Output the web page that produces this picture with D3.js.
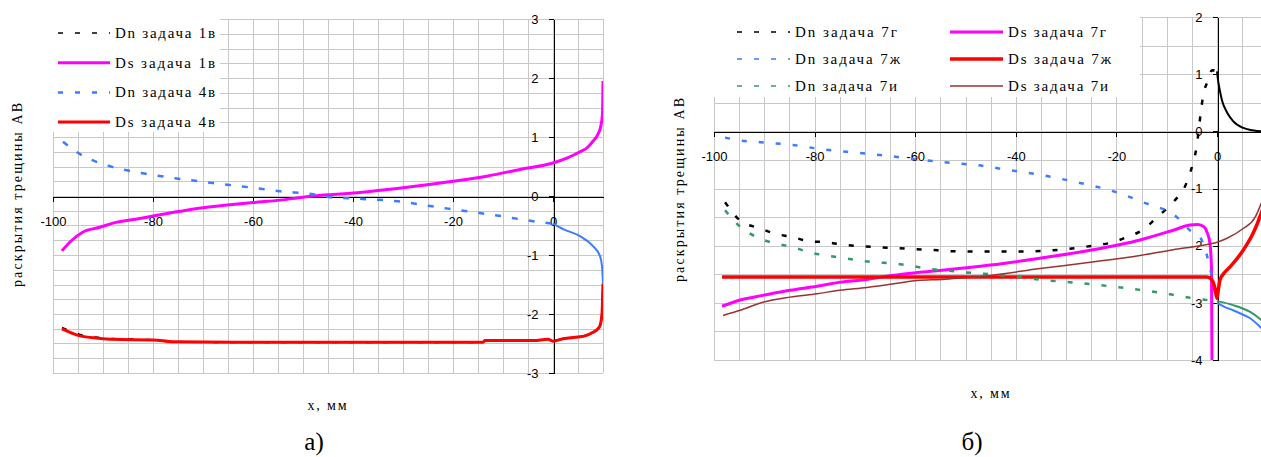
<!DOCTYPE html>
<html><head><meta charset="utf-8">
<script src="https://cdn.jsdelivr.net/npm/d3@7"></script>
<style>body{margin:0;background:#fff}svg{display:block}</style>
</head><body>
<svg id="c" width="1261" height="457"></svg>
<script>
// ---------------- DATA ----------------
// chart а)
const xTicksA = [-100, -80, -60, -40, -20, 0];
const yTicksA = [-3, -2, -1, 0, 1, 2, 3];
const dnA1 = [[-98.2,-2.23],[-96,-2.31],[-94.6,-2.35],[-91,-2.40],[-88,-2.42],[-84,-2.43],[-80,-2.44],[-76,-2.47],[-60,-2.48],[-40,-2.48],[-14,-2.48],[-13.6,-2.45],[-4,-2.45],[-1,-2.43],[0,-2.46],[2,-2.42],[5,-2.39],[6.4,-2.37],[8,-2.31],[9,-2.25],[9.4,-2.2],[9.8,-2.0],[10,-1.49]];
const dsA1 = [[-98.2,-0.93],[-96.6,-0.78],[-94,-0.61],[-90.6,-0.53],[-88,-0.46],[-83.2,-0.39],[-80,-0.34],[-74.6,-0.26],[-70,-0.2],[-64.6,-0.15],[-60,-0.11],[-54.6,-0.07],[-50,-0.02],[-45,0.02],[-40,0.05],[-30,0.14],[-20,0.25],[-13,0.34],[-6.6,0.45],[0,0.56],[3,0.65],[5.4,0.75],[7,0.83],[8,0.93],[9,1.05],[9.6,1.2],[9.9,1.4],[10,1.95]];
const dnA4 = [[-98,0.92],[-94.6,0.71],[-91,0.57],[-88,0.49],[-81,0.37],[-74.6,0.29],[-68,0.22],[-61,0.15],[-54.6,0.08],[-48,0.03],[-44.6,-0.02],[-38,-0.05],[-31,-0.09],[-24.6,-0.17],[-18,-0.25],[-11.2,-0.33],[-4.6,-0.42],[0,-0.47],[2,-0.56],[5.4,-0.68],[8,-0.85],[9.4,-1.02],[9.8,-1.19],[10,-1.49]];
const dsA4 = [[-98.2,-2.25],[-96,-2.33],[-94.6,-2.37],[-91,-2.41],[-88,-2.43],[-80,-2.44],[-76,-2.47],[-60,-2.48],[-40,-2.48],[-14,-2.48],[-13.6,-2.45],[-4,-2.45],[-1,-2.43],[0,-2.46],[2,-2.42],[5,-2.39],[6.4,-2.37],[8,-2.31],[9,-2.25],[9.4,-2.2],[9.8,-2.0],[10,-1.49]];
const namesA = ["Dn задача 1в", "Ds задача 1в", "Dn задача 4в", "Ds задача 4в"];

// chart б)
const xTicksB = [-100, -80, -60, -40, -20, 0];
const yTicksB = [-4, -3, -2, -1, 0, 1, 2];
const dnB7g = [[-97.8,-1.24],[-94.8,-1.56],[-90.8,-1.7],[-87.9,-1.79],[-84.3,-1.85],[-81.3,-1.92],[-77.9,-1.94],[-74.6,-1.98],[-64.4,-2.04],[-57.7,-2.07],[-51,-2.1],[-37.8,-2.1],[-31.2,-2.07],[-24.7,-2.0],[-20.7,-1.94],[-17.9,-1.85],[-14.9,-1.73],[-11.5,-1.47],[-8.5,-1.22],[-6,-0.89],[-4.8,-0.56],[-4,-0.24],[-3.6,0.05],[-3.2,0.35],[-2.8,0.6],[-1.8,0.89],[-1,1.07],[0,1.05],[0.2,0.9],[0.6,0.7],[1,0.54],[2,0.33],[3.2,0.18],[5.2,0.06],[7,0.02],[8.8,0],[10,0]];
const dsB7g = [[-98.4,-3.06],[-94.8,-2.95],[-90.3,-2.87],[-84.9,-2.78],[-79.5,-2.71],[-75,-2.64],[-69.6,-2.59],[-64.6,-2.52],[-59.6,-2.47],[-54.7,-2.43],[-45.1,-2.34],[-35.2,-2.22],[-25.2,-2.08],[-15.3,-1.9],[-8.7,-1.73],[-5.4,-1.64],[-3.8,-1.63],[-2.6,-1.67],[-2,-1.76],[-1.4,-1.96],[-1.1,-2.38],[-1,-4]];
const dnB7zh = [[-97.8,-0.11],[-94.8,-0.16],[-90.8,-0.19],[-84.3,-0.24],[-77.9,-0.32],[-71,-0.38],[-64.4,-0.44],[-57.7,-0.51],[-51.7,-0.56],[-47.8,-0.59],[-41.2,-0.68],[-34.6,-0.77],[-27.9,-0.89],[-21.3,-1.03],[-14.7,-1.24],[-8,-1.5],[-5.4,-1.73],[-3.4,-1.85],[-2,-2.17],[-1,-2.55],[0,-3.0],[1.5,-3.07],[3.2,-3.13],[5,-3.2],[6.6,-3.27],[8.8,-3.44],[10,-3.55]];
const dsB7zh = [[-98.4,-2.55],[-60,-2.55],[-20,-2.55],[-2,-2.55],[-1,-2.6],[-0.4,-2.75],[0,-2.92],[0.3,-2.75],[0.6,-2.6],[1.5,-2.47],[2.6,-2.37],[5.2,-2.08],[7.2,-1.78],[8.8,-1.43],[10,-1.1]];
const dnB7i = [[-97.8,-1.38],[-94.8,-1.67],[-91.5,-1.85],[-87.9,-1.96],[-84.5,-2.02],[-81.3,-2.11],[-77.9,-2.17],[-74.6,-2.21],[-71,-2.26],[-68,-2.29],[-64.4,-2.31],[-61,-2.35],[-57.7,-2.4],[-54.5,-2.43],[-51,-2.46],[-41.2,-2.53],[-34.6,-2.6],[-27.9,-2.65],[-21.3,-2.71],[-14.7,-2.78],[-8,-2.87],[-4.8,-2.92],[0,-2.97],[3.2,-3.04],[6.6,-3.16],[8.8,-3.3],[10,-3.4]];
const dsB7i = [[-98.2,-3.22],[-94.8,-3.13],[-90.3,-2.99],[-84.9,-2.9],[-79.5,-2.84],[-75,-2.78],[-69.6,-2.73],[-64.6,-2.67],[-59.6,-2.61],[-54.7,-2.59],[-51.5,-2.57],[-45.1,-2.52],[-35.2,-2.4],[-25.2,-2.29],[-15.3,-2.17],[-8.7,-2.07],[-3.4,-2.0],[0,-1.94],[2,-1.87],[5.2,-1.7],[7.6,-1.5],[8.8,-1.26],[10,-1.0]];
const namesB = ["Dn задача 7г", "Ds задача 7г", "Dn задача 7ж", "Ds задача 7ж", "Dn задача 7и", "Ds задача 7и"];

const yTitle = "раскрытия трещины АВ";
const xTitle = "x, мм";

// ---------------- DRAW ----------------
const svg = d3.select("#c");
svg.append("rect").attr("width",1261).attr("height",457).attr("fill","#fff");

function chart(o){
  const x = d3.scaleLinear().domain(o.xDom).range(o.xR);
  const y = d3.scaleLinear().domain(o.yDom).range(o.yR);
  const g = svg.append("g");
  const top = o.yR[1], bot = o.yR[0], left = o.xR[0], right = o.xR[1];
  // grid
  const grid = g.append("g").attr("stroke","#c8c8c8").attr("stroke-width",1).attr("shape-rendering","crispEdges");
  grid.selectAll(".v").data(d3.range(o.xDom[0], o.xDom[1]+0.001, o.xStep)).join("line")
    .attr("x1",d=>Math.round(x(d))+0.5).attr("x2",d=>Math.round(x(d))+0.5).attr("y1",top).attr("y2",bot);
  grid.selectAll(".h").data(d3.range(o.yDom[0], o.yDom[1]+0.001, o.yStep)).join("line")
    .attr("y1",d=>Math.round(y(d))+0.5).attr("y2",d=>Math.round(y(d))+0.5).attr("x1",left).attr("x2",right);
  // legend background
  g.append("rect").attr("x",o.legBox[0]).attr("y",o.legBox[1]).attr("width",o.legBox[2]).attr("height",o.legBox[3]).attr("fill","#fff");
  // axes
  const xa = g.append("g").attr("transform",`translate(0,${Math.round(y(0))+0.5})`)
    .call(d3.axisBottom(x).tickValues(o.xTicks).tickSize(5).tickSizeOuter(0).tickPadding(15));
  const ya = g.append("g").attr("transform",`translate(${Math.round(x(0))+0.5},0)`)
    .call(d3.axisLeft(y).tickValues(o.yTicks).tickSize(5).tickSizeOuter(0).tickPadding(10));
  [xa,ya].forEach(a=>{
    a.selectAll("text").attr("font-family","'Liberation Sans', Arial, sans-serif").attr("font-size",13).attr("fill","#000")
      .text(d=>String(d));
    a.selectAll("path,line").attr("stroke","#000").attr("shape-rendering","crispEdges");
  });
  // series
  const clipId = o.id+"clip";
  svg.append("clipPath").attr("id",clipId).append("rect")
    .attr("x",left).attr("y",top-1).attr("width",right-left).attr("height",bot-top+2);
  const line = d3.line().x(d=>x(d[0])).y(d=>y(d[1])).curve(d3.curveMonotoneX);
  const sg = g.append("g").attr("clip-path",`url(#${clipId})`).attr("fill","none");
  o.series.forEach(s=>{
    if(s.dash){
      sg.append("path").attr("d",line(s.data.filter(d=>d[0]<=0))).attr("stroke",s.color).attr("stroke-width",s.w).attr("stroke-dasharray",s.dash);
      sg.append("path").attr("d",line(s.data.filter(d=>d[0]>=0))).attr("stroke",s.color).attr("stroke-width",s.w2);
    } else {
      sg.append("path").attr("d",line(s.data)).attr("stroke",s.color).attr("stroke-width",s.w);
    }
  });
  // legend entries
  o.series.forEach((s,i)=>{
    const p = o.legPos(i);
    g.append("line").attr("x1",p[0]).attr("x2",p[0]+o.legLineLen).attr("y1",p[1]).attr("y2",p[1])
      .attr("stroke",s.color).attr("stroke-width",s.legW||s.w).attr("stroke-dasharray",s.dash?"5,12":null);
    g.append("text").attr("x",p[0]+o.legLineLen+5).attr("y",p[1]+5)
      .attr("font-family","'Liberation Serif', 'Times New Roman', serif").attr("font-size",15)
      .attr("textLength",s.tl).attr("lengthAdjust","spacing").text(s.name);
  });
  // axis titles
  g.append("text").attr("transform",`translate(${o.yTitlePos[0]},${o.yTitlePos[1]}) rotate(-90)`)
    .attr("text-anchor","middle").attr("font-family","'Liberation Serif', serif").attr("font-size",14)
    .attr("textLength",184).attr("lengthAdjust","spacing").text(yTitle);
  g.append("text").attr("x",o.xTitlePos[0]).attr("y",o.xTitlePos[1])
    .attr("text-anchor","middle").attr("font-family","'Liberation Serif', serif").attr("font-size",14)
    .attr("textLength",39).attr("lengthAdjust","spacing").text(xTitle);
  g.append("text").attr("x",o.capPos[0]).attr("y",o.capPos[1])
    .attr("text-anchor","middle").attr("font-family","'Liberation Serif', 'Times New Roman', serif").attr("font-size",25)
    .text(o.caption);
}

chart({
  id:"a", xDom:[-100,10], xR:[53,603], yDom:[-3,3], yR:[373,19], xStep:5, yStep:0.25,
  xTicks:xTicksA, yTicks:yTicksA, legBox:[53,19,167,113],
  series:[
    {name:namesA[0], data:dnA1, color:"#000000", w:2, w2:2, dash:"5,12", legW:1.5, tl:100},
    {name:namesA[1], data:dsA1, color:"#ff00ff", w:3, tl:100},
    {name:namesA[2], data:dnA4, color:"#3d7bff", w:2.5, w2:2, dash:"6,11", legW:2.5, tl:100},
    {name:namesA[3], data:dsA4, color:"#ff0000", w:3, tl:100}
  ],
  legPos:i=>[58, 33+i*29.7], legLineLen:52,
  yTitlePos:[22,195], xTitlePos:[327,410], capPos:[314,450], caption:"а)"
});

chart({
  id:"b", xDom:[-100,10], xR:[714,1267.3], yDom:[-4,2], yR:[360,17], xStep:5, yStep:0.5,
  xTicks:xTicksB, yTicks:yTicksB, legBox:[714,17,426,80],
  series:[
    {name:namesB[0], data:dnB7g, color:"#000000", w:2.5, w2:2, dash:"5,12", legW:1.5, tl:102},
    {name:namesB[1], data:dsB7g, color:"#ff00ff", w:3, tl:98},
    {name:namesB[2], data:dnB7zh, color:"#3d7bff", w:2.5, w2:2, dash:"5,12", legW:1.5, tl:105},
    {name:namesB[3], data:dsB7zh, color:"#ff0000", w:3.5, tl:103},
    {name:namesB[4], data:dnB7i, color:"#339966", w:2.5, w2:2, dash:"5,12", legW:1.5, tl:102},
    {name:namesB[5], data:dsB7i, color:"#993333", w:1.5, tl:100}
  ],
  legPos:i=>[i%2===0?737:950, 32+Math.floor(i/2)*27], legLineLen:53,
  yTitlePos:[684,190], xTitlePos:[990,398], capPos:[972,450], caption:"б)"
});
</script>
</body></html>
